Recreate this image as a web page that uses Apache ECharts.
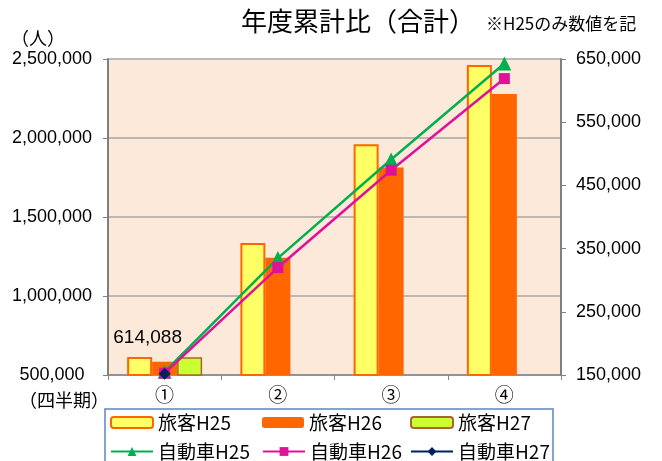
<!DOCTYPE html>
<html lang="ja">
<head>
    <meta charset="UTF-8">
    <title>年度累計比</title>
    <script src="https://cdn.jsdelivr.net/npm/echarts@6/dist/echarts.min.js"></script>
    <style>
        html, body { margin: 0; padding: 0; background: #fff; }
        #chart { width: 662px; height: 461px; }
    </style>
</head>
<body>
    <div id="chart"></div>
    <script>
        // 四半期
        const quarters = ['①', '②', '③', '④'];
        // 旅客（左軸）
        const paxH25 = [614088, 1335000, 1960000, 2462000];
        const paxH26 = [584000, 1242000, 1814000, 2278000];
        const paxH27 = [612000, null, null, null];
        // 自動車（右軸）
        const carH25 = [155000, 335000, 491000, 643000];
        const carH26 = [153000, 320000, 474000, 619000];
        const carH27 = [152000, null, null, null];

        const leftTicks = { min: 500000, max: 2500000, step: 500000 };
        const rightTicks = { min: 150000, max: 650000, step: 100000 };

        const numFont = 'Liberation Sans, Arial, sans-serif';
        const jpFont = '"Noto Sans CJK JP", sans-serif';
        const fmt = v => v.toLocaleString('en-US');

        let chart = echarts.init(document.getElementById('chart'));

        const names = ['旅客H25', '旅客H26', '旅客H27', '自動車H25', '自動車H26', '自動車H27'];
        const legendPos = [
            [110, 413], [262, 413], [410, 413],
            [110, 442], [262, 442], [410, 442]
        ];
        const legends = names.map((n, i) => ({
            data: [n],
            left: legendPos[i][0],
            top: legendPos[i][1],
            padding: 0,
            itemWidth: 42,
            itemHeight: 11,
            itemGap: 0,
            textStyle: { fontFamily: jpFont, fontSize: 19, color: '#000' }
        }));

        let option = {
            animation: false,
            title: [{
                text: '年度累計比（合計）',
                left: 236, top: 3,
                textStyle: { fontFamily: jpFont, fontSize: 26, fontWeight: 'normal', color: '#000' }
            }, {
                text: '※H25のみ数値を記',
                left: 481, top: 10,
                textStyle: { fontFamily: jpFont, fontSize: 17, fontWeight: 'normal', color: '#000' }
            }, {
                text: '（人）',
                left: 6, top: 24,
                textStyle: { fontFamily: jpFont, fontSize: 18, fontWeight: 'normal', color: '#000' }
            }, {
                text: '（四半期）',
                left: 14, top: 386,
                textStyle: { fontFamily: jpFont, fontSize: 18, fontWeight: 'normal', color: '#000' }
            }],
            legend: legends,
            grid: {
                left: 108, right: 101, top: 59, bottom: 86,
                show: true,
                backgroundColor: '#FDE9D9',
                borderWidth: 0
            },
            graphic: [{
                type: 'rect',
                shape: { x: 105, y: 409, width: 448, height: 80 },
                style: { fill: 'none', stroke: '#5B87C5', lineWidth: 1.5 }
            }],
            xAxis: {
                type: 'category',
                data: quarters,
                axisLine: { lineStyle: { color: '#868686', width: 1.5 } },
                axisTick: { show: true, length: 5, lineStyle: { color: '#868686' } },
                axisLabel: { fontFamily: jpFont, fontSize: 19, color: '#000', margin: 10 }
            },
            yAxis: [{
                type: 'value',
                min: leftTicks.min, max: leftTicks.max, interval: leftTicks.step,
                axisLine: { show: true, lineStyle: { color: '#808080', width: 2 } },
                axisTick: { show: true, length: 5, lineStyle: { color: '#808080' } },
                splitLine: { lineStyle: { color: '#A6A6A6', width: 1.5 } },
                axisLabel: {
                    fontFamily: numFont, fontSize: 18, color: '#000',
                    align: 'center', margin: 56, formatter: fmt
                }
            }, {
                type: 'value',
                position: 'right',
                min: rightTicks.min, max: rightTicks.max, interval: rightTicks.step,
                axisLine: { show: true, lineStyle: { color: '#808080', width: 2 } },
                axisTick: { show: true, length: 5, lineStyle: { color: '#808080' } },
                splitLine: { show: false },
                axisLabel: { fontFamily: numFont, fontSize: 18, color: '#000', margin: 15, formatter: fmt }
            }],
            series: [{
                name: '旅客H25',
                type: 'bar',
                barWidth: 25,
                barGap: '0%',
                data: paxH25.map((v, i) => i === 0 ? {
                    value: v,
                    label: {
                        show: true, position: 'top', distance: 10, offset: [8, 0],
                        fontFamily: numFont, fontSize: 19, color: '#000',
                        formatter: p => fmt(p.value)
                    }
                } : v),
                itemStyle: { color: '#FFFF66', borderColor: '#FF6600', borderWidth: 2 }
            }, {
                name: '旅客H26',
                type: 'bar',
                barWidth: 25,
                barGap: '0%',
                data: paxH26,
                itemStyle: { color: '#FF6600' }
            }, {
                name: '旅客H27',
                type: 'bar',
                barWidth: 25,
                barGap: '0%',
                data: paxH27,
                itemStyle: { color: '#CCFF33', borderColor: '#A5672A', borderWidth: 1.5 }
            }, {
                name: '自動車H25',
                type: 'line',
                yAxisIndex: 1,
                data: carH25,
                symbol: 'triangle',
                symbolSize: 14,
                lineStyle: { color: '#00B050', width: 2.5 },
                itemStyle: { color: '#00B050' }
            }, {
                name: '自動車H26',
                type: 'line',
                yAxisIndex: 1,
                data: carH26,
                symbol: 'rect',
                symbolSize: 11,
                lineStyle: { color: '#E0109B', width: 2.5 },
                itemStyle: { color: '#E0109B' }
            }, {
                name: '自動車H27',
                type: 'line',
                yAxisIndex: 1,
                data: carH27,
                symbol: 'diamond',
                symbolSize: 12,
                lineStyle: { color: '#002060', width: 2.5 },
                itemStyle: { color: '#002060' }
            }]
        };
        chart.setOption(option);
    </script>
</body>
</html>
